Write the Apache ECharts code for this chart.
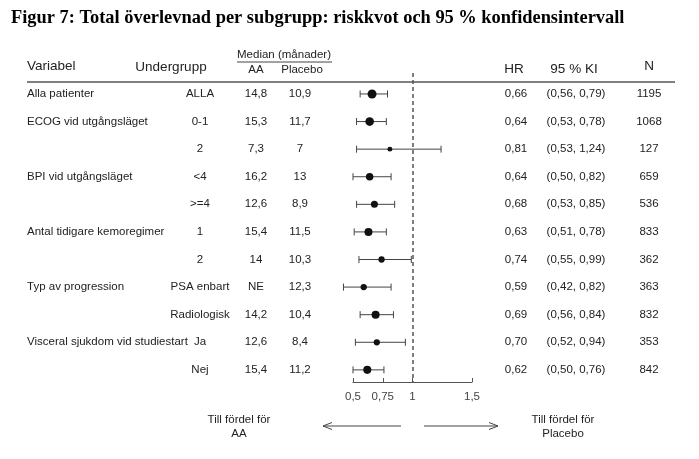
<!DOCTYPE html>
<html>
<head>
<meta charset="utf-8">
<script src="https://cdn.jsdelivr.net/npm/echarts@6/dist/echarts.min.js"></script>
<style>
  html, body { margin: 0; padding: 0; background: #fff; }
  #chart { width: 699px; height: 459px; }
</style>
</head>
<body>
<div id="chart"></div>
<script>
// table data, one entry per row (top to bottom)
const variables = ['Alla patienter', 'ECOG vid utgångsläget', '', 'BPI vid utgångsläget', '',
    'Antal tidigare kemoregimer', '', 'Typ av progression', '', 'Visceral sjukdom vid studiestart', ''];
const subgroups = ['ALLA', '0-1', '2', '<4', '>=4', '1', '2', 'PSA enbart', 'Radiologisk', 'Ja', 'Nej'];
const medianAA = ['14,8', '15,3', '7,3', '16,2', '12,6', '15,4', '14', 'NE', '14,2', '12,6', '15,4'];
const medianPlacebo = ['10,9', '11,7', '7', '13', '8,9', '11,5', '10,3', '12,3', '10,4', '8,4', '11,2'];
const hr = [0.66, 0.64, 0.81, 0.64, 0.68, 0.63, 0.74, 0.59, 0.69, 0.70, 0.62];
const ciLow = [0.56, 0.53, 0.53, 0.50, 0.53, 0.51, 0.55, 0.42, 0.56, 0.52, 0.50];
const ciHigh = [0.79, 0.78, 1.24, 0.82, 0.85, 0.78, 0.99, 0.82, 0.84, 0.94, 0.76];
const nPatients = [1195, 1068, 127, 659, 536, 833, 362, 363, 832, 353, 842];
const xTicks = [0.5, 0.75, 1, 1.5];

const FONT = 'Liberation Sans, Arial, sans-serif';
const FONT_SIZE = 11.5;
const HEAD_SIZE = 13.5;
const TEXT_COLOR = '#222';

function comma(v) {
    return String(v).replace('.', ',');
}

function fmt2(v) {
    return v.toFixed(2).replace('.', ',');
}

const hrText = hr.map(fmt2);
const ciText = ciLow.map(function(lo, i) {
    return '(' + fmt2(lo) + ', ' + fmt2(ciHigh[i]) + ')';
});
const nText = nPatients.map(String);

// a column of table text, y taken from the row scale
function textColumn(texts, x, align) {
    return {
        type: 'custom',
        silent: true,
        data: texts.map(function(t, i) { return [1, i]; }),
        encode: { x: 0, y: 1 },
        renderItem: function(params, api) {
            const y = api.coord([1, api.value(1)])[1];
            return {
                type: 'text',
                x: x,
                y: y,
                style: {
                    text: texts[params.dataIndex],
                    fill: TEXT_COLOR,
                    fontFamily: FONT,
                    fontSize: FONT_SIZE,
                    align: align,
                    verticalAlign: 'middle'
                }
            };
        }
    };
}

function headerText(text, x, y, align, size) {
    return {
        type: 'text',
        x: x,
        y: y,
        style: {
            text: text,
            fill: TEXT_COLOR,
            fontFamily: FONT,
            fontSize: size || FONT_SIZE,
            align: align,
            verticalAlign: 'middle'
        }
    };
}

const lineStyle = { stroke: '#444', lineWidth: 1 };

var chart = echarts.init(document.getElementById('chart'));

option = {
    animation: false,
    title: {
        text: 'Figur 7: Total överlevnad per subgrupp: riskkvot och 95 % konfidensintervall',
        left: 6,
        top: 4,
        textStyle: {
            fontFamily: 'Liberation Serif, Times New Roman, serif',
            fontWeight: 'bold',
            fontSize: 18.4,
            color: '#000'
        }
    },
    grid: { left: 353, width: 119, top: 73, height: 309 },
    xAxis: {
        type: 'value',
        min: 0.5,
        max: 1.5,
        splitLine: { show: false },
        axisLine: { onZero: false, lineStyle: { color: '#555', width: 1 } },
        axisTick: { customValues: xTicks, inside: true, length: 4, lineStyle: { color: '#555' } },
        axisLabel: {
            customValues: xTicks,
            formatter: function(v) { return comma(v); },
            color: '#444',
            fontFamily: FONT,
            fontSize: FONT_SIZE,
            margin: 9
        }
    },
    yAxis: {
        type: 'value',
        inverse: true,
        min: -0.76,
        max: 10.44,
        show: false
    },
    graphic: [
        headerText('Variabel', 27, 66, 'left', HEAD_SIZE),
        headerText('Undergrupp', 171, 67, 'center', HEAD_SIZE),
        headerText('Median (månader)', 284, 55, 'center'),
        { type: 'line', shape: { x1: 237, y1: 62, x2: 332, y2: 62 }, style: { stroke: '#444', lineWidth: 1 } },
        headerText('AA', 256, 70, 'center'),
        headerText('Placebo', 302, 70, 'center'),
        headerText('HR', 514, 69, 'center', HEAD_SIZE),
        headerText('95 % KI', 574, 69, 'center', HEAD_SIZE),
        headerText('N', 649, 66, 'center', HEAD_SIZE),
        { type: 'line', shape: { x1: 27, y1: 82, x2: 675, y2: 82 }, style: { stroke: '#808080', lineWidth: 2 } },
        headerText('Till fördel för', 239, 420, 'center'),
        headerText('AA', 239, 434, 'center'),
        headerText('Till fördel för', 563, 420, 'center'),
        headerText('Placebo', 563, 434, 'center'),
        { type: 'polyline', shape: { points: [[401, 426], [323, 426]] }, style: lineStyle },
        { type: 'polyline', shape: { points: [[332, 422.5], [323, 426], [332, 429.5]] }, style: { stroke: '#444', lineWidth: 1, fill: null } },
        { type: 'polyline', shape: { points: [[424, 426], [498, 426]] }, style: lineStyle },
        { type: 'polyline', shape: { points: [[489, 422.5], [498, 426], [489, 429.5]] }, style: { stroke: '#444', lineWidth: 1, fill: null } }
    ],
    series: [
        textColumn(variables, 27, 'left'),
        textColumn(subgroups, 200, 'center'),
        textColumn(medianAA, 256, 'center'),
        textColumn(medianPlacebo, 300, 'center'),
        textColumn(hrText, 516, 'center'),
        textColumn(ciText, 576, 'center'),
        textColumn(nText, 649, 'center'),
        {
            // confidence intervals with end caps
            type: 'custom',
            silent: true,
            data: hr.map(function(v, i) { return [i, ciLow[i], ciHigh[i]]; }),
            encode: { x: [1, 2], y: 0 },
            renderItem: function(params, api) {
                const row = api.value(0);
                const lo = api.coord([api.value(1), row]);
                const hi = api.coord([api.value(2), row]);
                const h = 3.5;
                return {
                    type: 'group',
                    children: [
                        { type: 'line', shape: { x1: lo[0], y1: lo[1], x2: hi[0], y2: hi[1] }, style: lineStyle },
                        { type: 'line', shape: { x1: lo[0], y1: lo[1] - h, x2: lo[0], y2: lo[1] + h }, style: lineStyle },
                        { type: 'line', shape: { x1: hi[0], y1: hi[1] - h, x2: hi[0], y2: hi[1] + h }, style: lineStyle }
                    ]
                };
            }
        },
        {
            // hazard ratio points, size by N
            type: 'scatter',
            silent: true,
            data: hr.map(function(v, i) { return [v, i, nPatients[i]]; }),
            symbol: 'circle',
            symbolSize: function(v) { return 3 + 6 * Math.sqrt(v[2] / 1195); },
            itemStyle: { color: '#111', opacity: 1 },
            z: 5,
            markLine: {
                silent: true,
                symbol: 'none',
                label: { show: false },
                lineStyle: { type: [4, 3], color: '#555', width: 1.5 },
                data: [{ xAxis: 1 }]
            }
        }
    ]
};

chart.setOption(option);
</script>
</body>
</html>
